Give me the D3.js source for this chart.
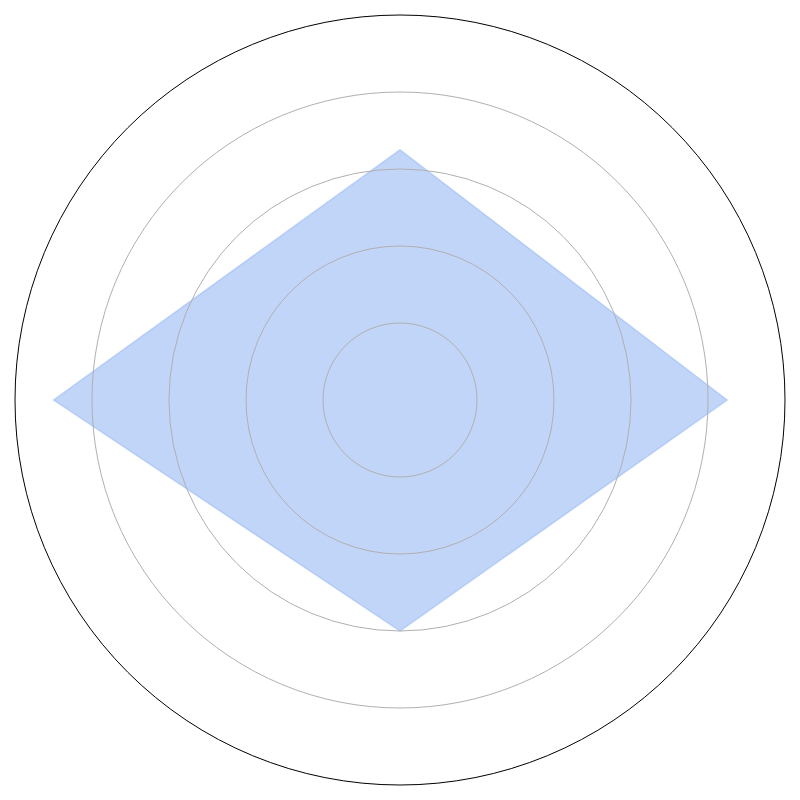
<!DOCTYPE html>
<html><head><meta charset="utf-8">
<script src="https://cdn.jsdelivr.net/npm/d3@7"></script>
<style>html,body{margin:0;padding:0;background:#fff}</style>
</head><body>
<svg id="chart" width="800" height="800"></svg>
<script>
const axes = ["A", "B", "C", "D"]; // order: right, top, left, bottom (counter-clockwise from 0°)
const values = [4.25, 3.25, 4.5, 3.0];
const gridLevels = [1, 2, 3, 4];
const maxValue = 5;

const svg = d3.select("#chart");
const cx = 400, cy = 400, R = 385;
const r = d3.scaleLinear().domain([0, maxValue]).range([0, R]);
const angle = d3.scaleLinear().domain([0, axes.length]).range([0, 2 * Math.PI]);

const g = svg.append("g").attr("transform", `translate(${cx},${cy})`);

const pts = values.map((v, i) => [r(v) * Math.cos(angle(i)), -r(v) * Math.sin(angle(i))]);
g.append("path")
  .attr("d", d3.line()(pts) + "Z")
  .attr("fill", "rgb(100,149,237)").attr("fill-opacity", 0.4)
  .attr("stroke", "rgb(100,149,237)").attr("stroke-opacity", 0.3).attr("stroke-width", 1.5);

g.selectAll("circle.grid").data(gridLevels).join("circle")
  .attr("class", "grid").attr("r", d => r(d))
  .attr("fill", "none").attr("stroke", "#b0b0b0").attr("stroke-width", 1);

g.append("circle").attr("r", r(maxValue))
  .attr("fill", "none").attr("stroke", "#000").attr("stroke-width", 1);
</script>
</body></html>
